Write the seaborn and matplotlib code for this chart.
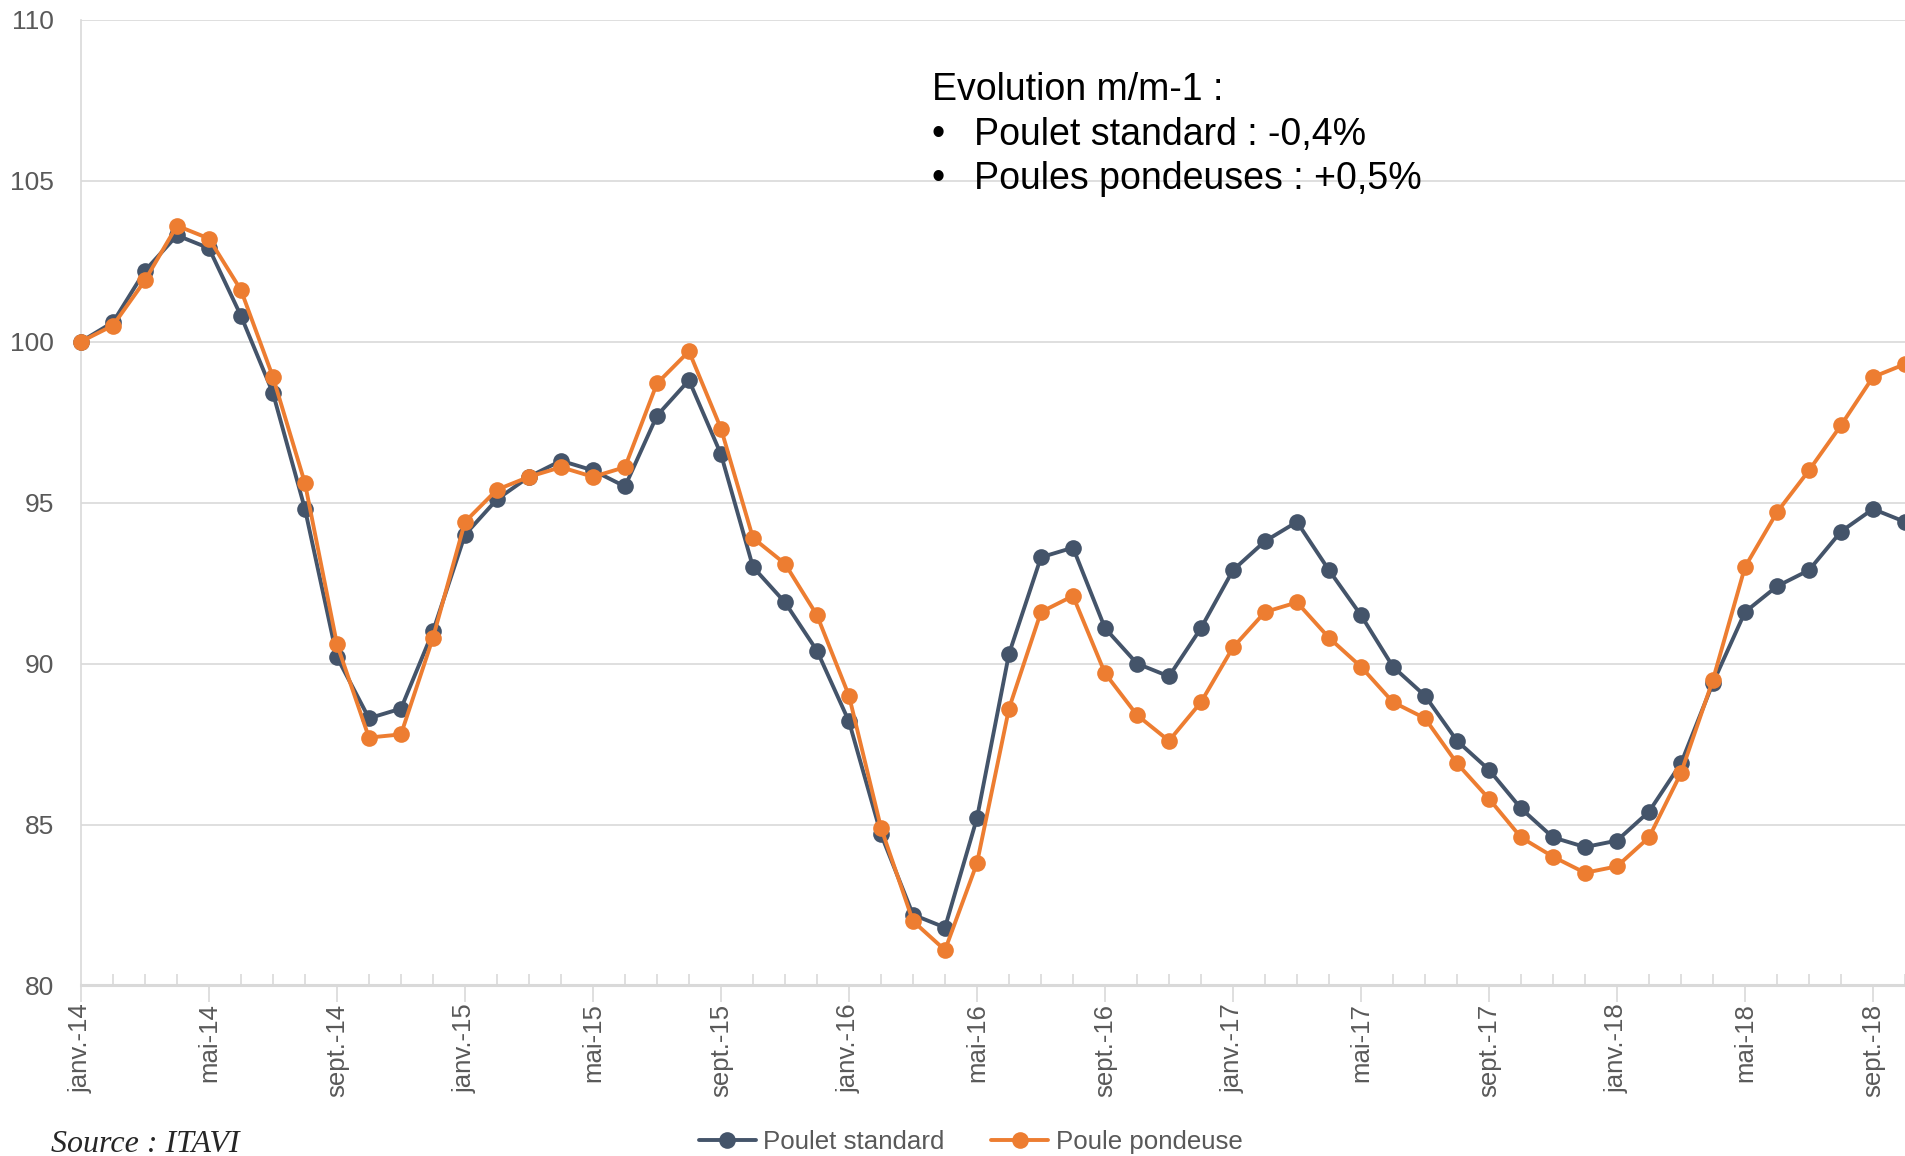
import matplotlib
matplotlib.use("Agg")
import matplotlib.pyplot as plt
import pandas as pd
import seaborn as sns

# Indice mensuel, janv.-14 = 100
poulet_standard = [100.0, 100.6, 102.2, 103.3, 102.9, 100.8, 98.4, 94.8, 90.2, 88.3,
                   88.6, 91.0, 94.0, 95.1, 95.8, 96.3, 96.0, 95.5, 97.7, 98.8,
                   96.5, 93.0, 91.9, 90.4, 88.2, 84.7, 82.2, 81.8, 85.2, 90.3,
                   93.3, 93.6, 91.1, 90.0, 89.6, 91.1, 92.9, 93.8, 94.4, 92.9,
                   91.5, 89.9, 89.0, 87.6, 86.7, 85.5, 84.6, 84.3, 84.5, 85.4,
                   86.9, 89.4, 91.6, 92.4, 92.9, 94.1, 94.8, 94.4]
poule_pondeuse = [100.0, 100.5, 101.9, 103.6, 103.2, 101.6, 98.9, 95.6, 90.6, 87.7,
                  87.8, 90.8, 94.4, 95.4, 95.8, 96.1, 95.8, 96.1, 98.7, 99.7,
                  97.3, 93.9, 93.1, 91.5, 89.0, 84.9, 82.0, 81.1, 83.8, 88.6,
                  91.6, 92.1, 89.7, 88.4, 87.6, 88.8, 90.5, 91.6, 91.9, 90.8,
                  89.9, 88.8, 88.3, 86.9, 85.8, 84.6, 84.0, 83.5, 83.7, 84.6,
                  86.6, 89.5, 93.0, 94.7, 96.0, 97.4, 98.9, 99.3]
tick_labels = ["janv.-14", "mai-14", "sept.-14", "janv.-15", "mai-15", "sept.-15",
               "janv.-16", "mai-16", "sept.-16", "janv.-17", "mai-17", "sept.-17",
               "janv.-18", "mai-18", "sept.-18"]
series_names = ["Poulet standard", "Poule pondeuse"]
colors = ["#44546A", "#ED7D31"]

n = len(poulet_standard)
df = pd.DataFrame({
    "mois": list(range(n)) * 2,
    "indice": poulet_standard + poule_pondeuse,
    "serie": [series_names[0]] * n + [series_names[1]] * n,
})

sns.set_style("white")
plt.rcParams["font.family"] = ["Liberation Sans", "DejaVu Sans"]

fig = plt.figure(figsize=(19.05, 11.56), dpi=100)
ax = fig.add_axes([0.0425, 0.1475, 0.9575, 0.8355])

sns.lineplot(data=df, x="mois", y="indice", hue="serie", palette=colors,
             marker="o", markersize=12, markeredgewidth=0, linewidth=2.8,
             ax=ax, clip_on=False, zorder=3)

ax.set_xlim(0, n - 1)
ax.set_ylim(80, 110)
ax.set_yticks(range(80, 111, 5))
ax.set_xticks(range(0, n, 4))
ax.set_xticklabels(tick_labels, rotation=90)
ax.set_xticks(range(n), minor=True)
ax.set_xlabel("")
ax.set_ylabel("")

ax.grid(axis="y", color="#D9D9D9", linewidth=1.2)
ax.set_axisbelow(True)
for side in ["top", "right"]:
    ax.spines[side].set_visible(False)
ax.spines["left"].set_color("#D9D9D9")
ax.spines["left"].set_linewidth(1.2)
ax.spines["bottom"].set_color("#D9D9D9")
ax.spines["bottom"].set_linewidth(2.2)

ax.tick_params(axis="y", left=False, pad=16, labelsize=19, labelcolor="#595959")
ax.tick_params(axis="x", which="major", bottom=True, direction="out", length=12,
               width=1.2, color="#D9D9D9", pad=1, labelsize=18.5, labelcolor="#595959")
ax.tick_params(axis="x", which="minor", bottom=True, direction="in", length=8,
               width=1.2, color="#D9D9D9")

# encadré texte
ax.text(0.4664, 0.927, "Evolution m/m-1 :", transform=ax.transAxes,
        fontsize=27, color="black", va="center", ha="left")
for i, txt in enumerate(["Poulet standard : -0,4%", "Poules pondeuses : +0,5%"]):
    y = 0.881 - i * 0.0455
    ax.text(0.4664, y, "\u2022", transform=ax.transAxes, fontsize=27,
            color="black", va="center", ha="left")
    ax.text(0.4897, y, txt, transform=ax.transAxes, fontsize=27,
            color="black", va="center", ha="left")

handles, labels = ax.get_legend_handles_labels()
ax.legend(handles, labels, loc="center", bbox_to_anchor=(0.5096, 0.012),
          bbox_transform=fig.transFigure, ncol=2, frameon=False,
          fontsize=18.6, labelcolor="#595959", handlelength=2.2,
          handletextpad=0.3, columnspacing=1.8)

fig.text(0.027, 0.01, "Source : ITAVI", family="Liberation Serif",
         style="italic", fontsize=23, va="center", ha="left")

fig.savefig("out.png", dpi=100)
